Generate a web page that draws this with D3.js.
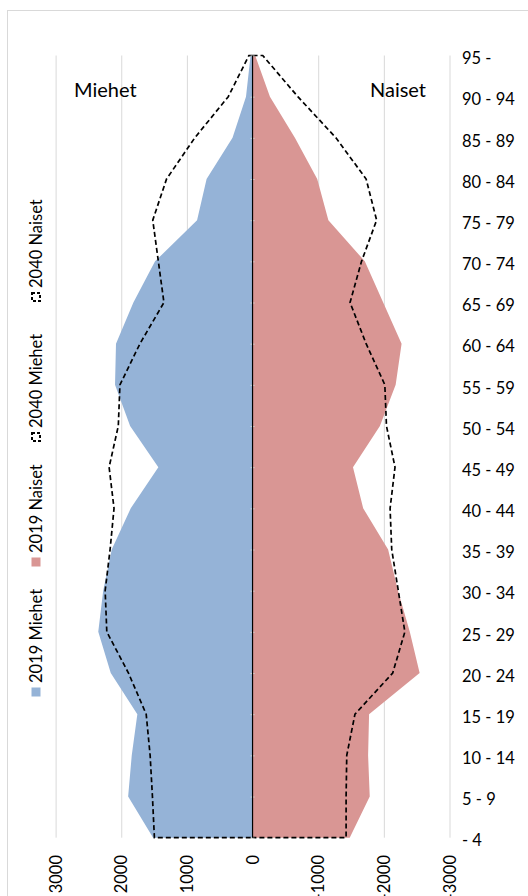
<!DOCTYPE html>
<html>
<head>
<meta charset="utf-8">
<script src="https://cdn.jsdelivr.net/npm/d3@7"></script>
<style>
	html, body { margin: 0; padding: 0; background: #fff; overflow: hidden; }
	svg { display: block; font-family: Lato, 'Open Sans', sans-serif; }
</style>
</head>
<body>
<div id="chart"></div>
<script>
'use strict';

// age groups, top to bottom as shown
var ageGroups = ['95 -', '90 - 94', '85 - 89', '80 - 84', '75 - 79', '70 - 74', '65 - 69',
	'60 - 64', '55 - 59', '50 - 54', '45 - 49', '40 - 44', '35 - 39', '30 - 34',
	'25 - 29', '20 - 24', '15 - 19', '10 - 14', '5 - 9', '- 4'];

var men2019 = [30, 100, 305, 700, 845, 1485, 1815, 2080, 2095, 1865,
	1435, 1855, 2145, 2275, 2350, 2160, 1755, 1840, 1895, 1515];
var women2019 = [40, 265, 645, 985, 1155, 1710, 1990, 2270, 2180, 1940,
	1530, 1685, 2065, 2215, 2395, 2545, 1775, 1760, 1785, 1480];
var men2040 = [55, 370, 880, 1310, 1520, 1435, 1350, 1715, 2020, 2045,
	2185, 2110, 2170, 2245, 2220, 1890, 1620, 1560, 1525, 1495];
var women2040 = [155, 690, 1270, 1730, 1890, 1660, 1485, 1730, 2015, 2040,
	2170, 2095, 2120, 2220, 2320, 2135, 1560, 1435, 1425, 1425];

var xTicks = [3000, 2000, 1000, 0, -1000, -2000, -3000];
var legendLabels = ['2019 Miehet', '2019 Naiset', '2040 Miehet', '2040 Naiset'];

var width = 528, height = 896;
var blue = '#95b3d7', red = '#d99694', grid = '#d9d9d9';

var svg = d3.select('#chart').append('svg')
	.attr('width', width)
	.attr('height', height);

// chart frame (runs off the page on the right and bottom)
svg.append('rect')
	.attr('x', 7.5).attr('y', 10.5)
	.attr('width', 700).attr('height', 1000)
	.attr('fill', 'none')
	.attr('stroke', grid);

// men are positive on the left, women negative on the right
var x = d3.scaleLinear()
	.domain([3000, -3000])
	.range([55.6, 449.5]);
var y = d3.scalePoint()
	.domain(ageGroups)
	.range([55.5, 837.7]);

var yTop = y.range()[0], yBottom = y.range()[1];

var gridAxis = d3.axisBottom(x)
	.tickValues(xTicks.filter(function(t) { return t !== 0; }))
	.tickSize(yBottom - yTop)
	.tickFormat('');
svg.append('g')
	.attr('class', 'grid')
	.attr('transform', 'translate(0,' + yTop + ')')
	.call(gridAxis)
	.call(function(g) {
		g.select('.domain').remove();
		g.selectAll('line').attr('stroke', grid).attr('stroke-width', 1);
	});

function area(values, sign) {
	return d3.area()
		.y(function(d, i) { return y(ageGroups[i]); })
		.x0(x(0))
		.x1(function(d) { return x(sign * d); })
		(values);
}

svg.append('path').attr('d', area(men2019, 1)).attr('fill', blue);
svg.append('path').attr('d', area(women2019, -1)).attr('fill', red);

// 2040 outline: closed shape, dashed
function outline(values, sign) {
	var pts = values.map(function(d, i) { return [x(sign * d), y(ageGroups[i])]; });
	pts.push([x(0), yBottom]);
	pts.unshift([x(0), yTop]);
	return d3.line()(pts);
}
svg.append('path')
	.attr('d', outline(men2040, 1))
	.attr('fill', 'none').attr('stroke', '#000')
	.attr('stroke-width', 1.7).attr('stroke-dasharray', '5,3');
svg.append('path')
	.attr('d', outline(women2040, -1))
	.attr('fill', 'none').attr('stroke', '#000')
	.attr('stroke-width', 1.7).attr('stroke-dasharray', '5,3');

// category axis in the middle
var catAxis = d3.axisLeft(y)
	.tickSize(4)
	.tickFormat('');
svg.append('g')
	.attr('transform', 'translate(' + (x(0) + 2) + ',0)')
	.call(catAxis)
	.call(function(g) {
		g.select('.domain').remove();
		g.selectAll('line').attr('stroke', grid);
	});
svg.append('line')
	.attr('x1', x(0)).attr('x2', x(0))
	.attr('y1', yTop).attr('y2', yBottom)
	.attr('stroke', '#000').attr('stroke-width', 1.2);

// age labels on the right
svg.append('g')
	.selectAll('text')
	.data(ageGroups)
	.enter().append('text')
		.attr('x', 462)
		.attr('y', function(d) { return y(d) + 3; })
		.attr('dy', '0.35em')
		.attr('font-size', 16.5)
		.attr('fill', '#000')
		.text(function(d) { return d; });

// value labels, rotated (the page cuts them off at the bottom, as in the original)
svg.append('g')
	.selectAll('text')
	.data(xTicks)
	.enter().append('text')
		.attr('transform', function(d) { return 'translate(' + (x(d) + 6) + ',855) rotate(-90)'; })
		.attr('text-anchor', 'end')
		.attr('font-size', 16.5)
		.attr('fill', '#000')
		.text(function(d) { return d; });

// side titles
svg.append('text')
	.attr('x', 74).attr('y', 97)
	.attr('font-size', 20)
	.text('Miehet');
svg.append('text')
	.attr('x', 370).attr('y', 97)
	.attr('font-size', 20)
	.text('Naiset');

// legend, rotated along the left edge
var legendY = [692, 562, 437, 297];
var legend = svg.append('g')
	.selectAll('g')
	.data(legendLabels)
	.enter().append('g')
		.attr('transform', function(d, i) { return 'translate(36,' + legendY[i] + ')'; });
legend.append('rect')
	.attr('x', function(d, i) { return i > 1 ? -4 : -4.5; })
	.attr('y', function(d, i) { return i > 1 ? -4 : -4.5; })
	.attr('width', function(d, i) { return i > 1 ? 8 : 9; })
	.attr('height', function(d, i) { return i > 1 ? 8 : 9; })
	.attr('fill', function(d, i) { return i === 0 ? blue : i === 1 ? red : 'none'; })
	.attr('stroke', function(d, i) { return i > 1 ? '#000' : 'none'; })
	.attr('stroke-width', 2)
	.attr('stroke-dasharray', function(d, i) { return i > 1 ? '3,2' : null; });
legend.append('text')
	.attr('transform', 'translate(6,-9) rotate(-90)')
	.attr('font-size', 16.5)
	.text(function(d) { return d; });
</script>
</body>
</html>
